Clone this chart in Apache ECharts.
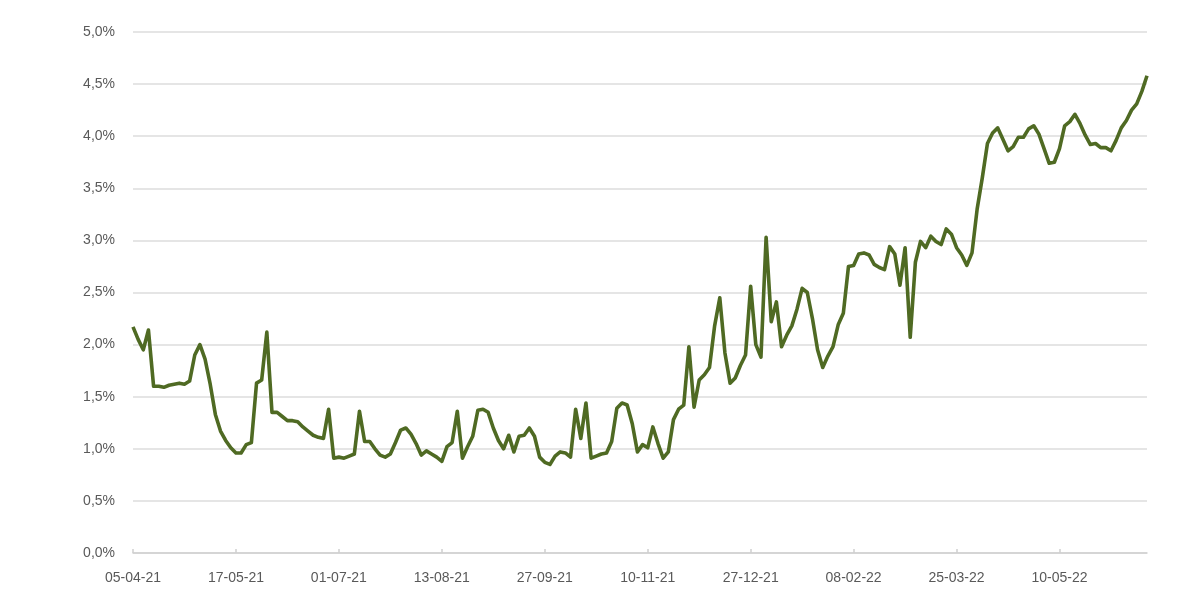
<!DOCTYPE html>
<html>
<head>
<meta charset="utf-8">
<script src="https://cdn.jsdelivr.net/npm/echarts@6/dist/echarts.min.js"></script>
<style>
  html, body { margin: 0; padding: 0; background: #ffffff; }
  #chart { width: 1200px; height: 614px; }
</style>
</head>
<body>
<div id="chart"></div>
<script>
// Tick labels shown on the x axis (one every POINTS_PER_LABEL observations)
const tickLabels = ['05-04-21', '17-05-21', '01-07-21', '13-08-21', '27-09-21',
                    '10-11-21', '27-12-21', '08-02-22', '25-03-22', '10-05-22'];
const POINTS_PER_LABEL = 20;

// Series values (%), segment by segment
const seg1 = [2.17, 2.05, 1.95, 2.14, 1.60, 1.60, 1.59, 1.61, 1.62, 1.63, 1.62, 1.65, 1.90, 2.00, 1.86, 1.62, 1.33, 1.17, 1.08, 1.01];
const seg2 = [0.96, 0.96, 1.04, 1.06, 1.63, 1.66, 2.12, 1.35, 1.35, 1.31, 1.27, 1.27, 1.26, 1.21, 1.17, 1.13, 1.11, 1.10, 1.38, 0.91];
const seg3 = [0.92, 0.91, 0.93, 0.95, 1.36, 1.07, 1.07, 1.00, 0.94, 0.92, 0.95, 1.06, 1.18, 1.20, 1.14, 1.05, 0.94, 0.98, 0.95, 0.92];
const seg4 = [0.88, 1.02, 1.06, 1.36, 0.91, 1.02, 1.12, 1.37, 1.38, 1.35, 1.20, 1.08, 1.00, 1.13, 0.97, 1.12, 1.13, 1.20, 1.12, 0.92];
const seg5 = [0.87, 0.85, 0.93, 0.97, 0.96, 0.92, 1.38, 1.10, 1.44, 0.91, 0.93, 0.95, 0.96, 1.07, 1.39, 1.44, 1.42, 1.24, 0.97, 1.04];
const seg6 = [1.01, 1.21, 1.05, 0.91, 0.97, 1.28, 1.38, 1.42, 1.98, 1.40, 1.66, 1.71, 1.78, 2.18, 2.45, 1.92, 1.63, 1.68, 1.80, 1.90];
const seg7 = [2.56, 2.00, 1.88, 3.03, 2.22, 2.41, 1.98, 2.09, 2.18, 2.34, 2.54, 2.50, 2.25, 1.95, 1.78, 1.89, 1.98, 2.19, 2.30, 2.75];
const seg8 = [2.76, 2.87, 2.88, 2.86, 2.77, 2.74, 2.72, 2.94, 2.87, 2.57, 2.93, 2.07, 2.79, 2.99, 2.93, 3.04, 2.99, 2.96, 3.11, 3.06];
const seg9 = [2.93, 2.86, 2.76, 2.88, 3.30, 3.60, 3.93, 4.03, 4.08, 3.97, 3.86, 3.90, 3.99, 3.99, 4.07, 4.10, 4.02, 3.88, 3.74, 3.75];
const seg10 = [3.88, 4.10, 4.14, 4.21, 4.12, 4.01, 3.92, 3.93, 3.89, 3.89, 3.86, 3.96, 4.08, 4.15, 4.25, 4.31, 4.43, 4.58];

const values = [].concat(seg1, seg2, seg3, seg4, seg5, seg6, seg7, seg8, seg9, seg10);
const categories = values.map((v, i) => String(i));

const chart = echarts.init(document.getElementById('chart'), null, { renderer: 'canvas' });
const labelColor = '#595959';
const fontFamily = '"Liberation Sans", Arial, sans-serif';

chart.setOption({
  animation: false,
  backgroundColor: '#ffffff',
  grid: { left: 133, right: 53, top: 32, bottom: 61, containLabel: false },
  xAxis: {
    type: 'category',
    data: categories,
    boundaryGap: false,
    axisLine: { show: true, lineStyle: { color: '#d0d0d0', width: 1.5 } },
    axisTick: { show: true, inside: true, length: 4, interval: POINTS_PER_LABEL - 1,
                lineStyle: { color: '#d0d0d0', width: 1.5 } },
    axisLabel: {
      interval: POINTS_PER_LABEL - 1,
      margin: 18,
      color: labelColor,
      fontSize: 14,
      fontFamily: fontFamily,
      formatter: function (val, idx) {
        return idx % POINTS_PER_LABEL === 0 ? (tickLabels[idx / POINTS_PER_LABEL] || '') : '';
      }
    },
    splitLine: { show: false }
  },
  yAxis: {
    type: 'value',
    min: 0,
    max: 5,
    interval: 0.5,
    axisLine: { show: false },
    axisTick: { show: false },
    axisLabel: {
      margin: 18,
      color: labelColor,
      fontSize: 14,
      fontFamily: fontFamily,
      formatter: function (v) { return v.toFixed(1).replace('.', ',') + '%'; }
    },
    splitLine: { show: true, lineStyle: { color: '#dcdcdc', width: 1.5 } }
  },
  series: [{
    type: 'line',
    data: values,
    showSymbol: false,
    symbol: 'none',
    smooth: false,
    lineStyle: { color: '#4f6a23', width: 3.6, join: 'round' },
    z: 5
  }]
});
</script>
</body>
</html>
